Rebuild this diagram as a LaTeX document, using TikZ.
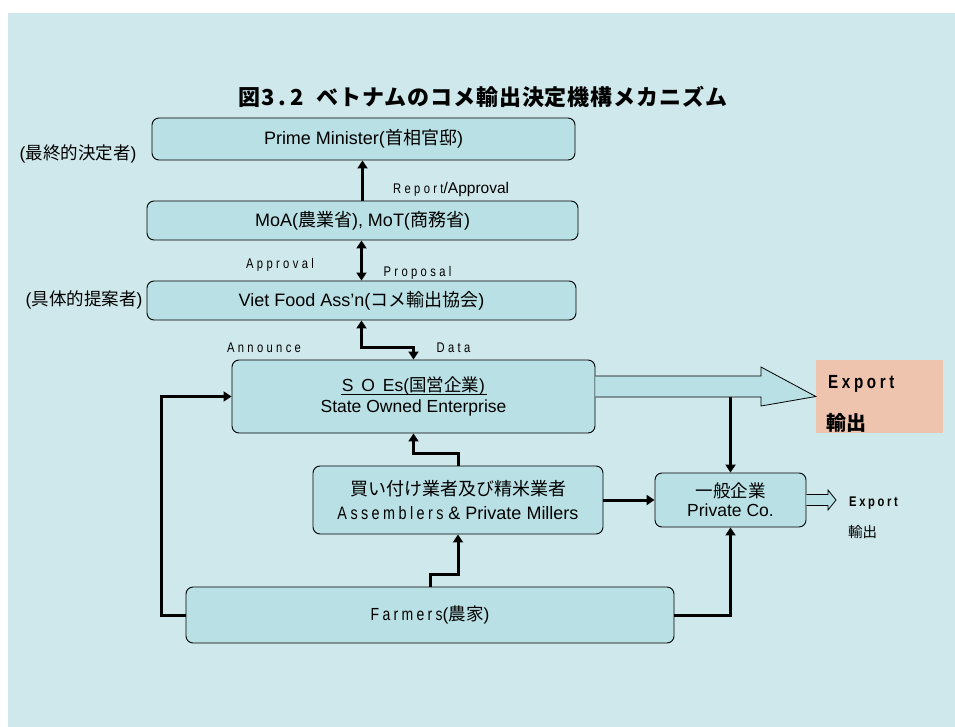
\documentclass[tikz,border=0pt]{standalone}
\usepackage{fontspec}
\usetikzlibrary{arrows.meta}
\setmainfont{Liberation Sans}
\newfontfamily\jp{Noto Sans CJK JP}
\newfontfamily\jpt{Noto Sans CJK JP}[LetterSpace=4]
\newfontfamily\nsp{Liberation Sans}[FakeStretch=0.8,LetterSpace=19]
\newfontfamily\nspw{Liberation Sans}[FakeStretch=0.8,LetterSpace=24]
\definecolor{panelc}{HTML}{CFE8EB}
\definecolor{boxc}{HTML}{B9E0E4}
\definecolor{expc}{HTML}{EEC4AE}
\begin{document}
\begin{tikzpicture}[x=1pt,y=-1pt,
  box/.style={draw=black,line width=0.9pt,rounded corners=7pt,fill=boxc,inner sep=0pt,align=center},
  conn/.style={line width=3pt,-{Triangle[length=8pt,width=10pt]}},
  dconn/.style={line width=3pt,{Triangle[length=8pt,width=10pt]}-{Triangle[length=8pt,width=10pt]}},
  hollow/.style={draw=black,line width=0.8pt,fill=boxc},
  lab/.style={inner sep=0pt,font=\fontsize{14}{15}\selectfont\nspw},
  side/.style={inner sep=0pt,font=\fontsize{17.5}{20}\selectfont}
  ]
\useasboundingbox (0,0) rectangle (955,727);
\fill[panelc] (8,13) rectangle (955,727);

\node[inner sep=0pt,font=\fontsize{22}{24}\selectfont\jpt\bfseries] (title) at (483,97)
  {図3\,.\,2\hspace{0.6em}ベトナムのコメ輸出決定機構メカニズム};

% boxes
\node[box,minimum width=423pt,minimum height=42pt,font=\fontsize{18}{20}\selectfont] (pm) at (363.5,139)
  {Prime Minister({\jp 首相官邸})};
\node[box,minimum width=431pt,minimum height=39pt,font=\fontsize{18}{20}\selectfont] (moa) at (362.5,220.5)
  {MoA({\jp 農業省}), MoT({\jp 商務省})};
\node[box,minimum width=429pt,minimum height=39pt,font=\fontsize{18}{20}\selectfont] (vf) at (361.5,300.5)
  {Viet Food Ass'n({\jp コメ輸出協会})};
\node[box,minimum width=363pt,minimum height=73pt,font=\fontsize{17.5}{21}\selectfont] (soe) at (413.5,396.5)
  {S\hspace{0.45em}O\hspace{0.45em}Es({\jp 国営企業})\\State Owned Enterprise};
\node[box,minimum width=290pt,minimum height=68pt,font=\fontsize{18}{24}\selectfont] (asm) at (458,500)
  {{\jp 買い付け業者及び精米業者}\\{\nsp Assemblers} \& Private Millers};
\node[box,minimum width=151pt,minimum height=54pt,font=\fontsize{17.5}{19}\selectfont] (pc) at (730.5,500)
  {{\jp 一般企業}\\Private Co.};
\node[box,minimum width=488pt,minimum height=56pt,font=\fontsize{17.5}{20}\selectfont] (frm) at (430,615)
  {{\nsp Farmers}({\jp 農家})};
\node[fill=expc,inner sep=0pt,minimum width=127pt,minimum height=73pt] (exp) at (879.5,396.5) {};

% side labels
\node[side] (l1) at (78,154) {({\jp 最終的決定者})};
\node[side] (l2) at (84,300) {({\jp 具体的提案者})};

% connector labels
\node[inner sep=0pt,anchor=west] (rep) at (393,189)
  {{\fontsize{14}{15}\selectfont\nspw Report}{\fontsize{15.5}{17}\selectfont/Approval}};
\node[lab] (appr) at (280,265) {Approval};
\node[lab] (prop) at (417.5,273) {Proposal};
\node[lab] (ann) at (264,348) {Announce};
\node[lab] (dat) at (453.5,348) {Data};

% export labels
\node[inner sep=0pt,anchor=west,font=\fontsize{19}{20}\selectfont\nsp\bfseries] (ex1) at (828,384) {Export};
\node[inner sep=0pt,anchor=west,font=\fontsize{20}{22}\selectfont\jp\bfseries] (ex2) at (826,423) {輸出};
\node[inner sep=0pt,anchor=west,font=\fontsize{14}{15}\selectfont\nsp\bfseries] (ex3) at (849,503) {Export};
\node[inner sep=0pt,anchor=west,font=\fontsize{14.5}{16}\selectfont\jp] (ex4) at (848,532) {輸出};

% underline in SOE title
\draw[line width=0.8pt] (341,394) -- (487,394);

% connectors
\draw[conn] (moa.north) -- (moa.north |- pm.south);
\draw[dconn] (vf.north) -- (vf.north |- moa.south);
\draw[dconn] (vf.south) -- ++(0,27) -| (soe.north);
\coordinate (split) at (730.5,396);
\draw[conn] (split) -- (pc.north);
\draw[conn] (asm.north) -- ++(0,-12) -| (soe.south);
\draw[conn] (frm.north) -- ++(0,-12) -| (asm.south);
\draw[conn] (asm.east) -- (pc.west);
\draw[conn] (frm.east) -| (pc.south);
\draw[conn] (frm.west) -- ++(-24,0) |- (soe.west);

% hollow arrows
\draw[hollow] (soe.east |- 0,376) -- (761,376) -- (761,367) -- (exp.west) -- (761,406) -- (761,397) -- (soe.east |- 0,397);
\draw[hollow] (pc.east |- 0,494.5) -- (828,494.5) -- (828,490) -- (836,500) -- (828,510) -- (828,505.5) -- (pc.east |- 0,505.5);
\end{tikzpicture}
\end{document}
